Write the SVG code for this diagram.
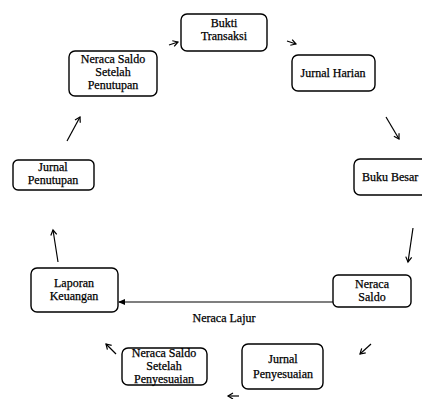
<svg xmlns="http://www.w3.org/2000/svg" width="422" height="399" viewBox="0 0 422 399">
<defs>
<style>
.box{fill:#fff;stroke:#000;stroke-width:1.4}
text{font-family:'Liberation Serif','Times New Roman',serif;font-size:12px;fill:#000;stroke:#000;stroke-width:0.25;text-anchor:middle}
.c{stroke:#000;stroke-width:1.2;fill:none}
</style>
<marker id="ah" markerWidth="8" markerHeight="8" refX="6" refY="4" orient="auto" markerUnits="userSpaceOnUse">
<path d="M1,1 L6,4 L1,7" fill="none" stroke="#000" stroke-width="1.2"/>
</marker>
<marker id="af" markerWidth="8" markerHeight="8" refX="6" refY="4" orient="auto" markerUnits="userSpaceOnUse">
<path d="M0,1 L7,4 L0,7 Z" fill="#000"/>
</marker>
</defs>
<rect width="422" height="399" fill="#fff"/>
<g id="bukti">
<rect class="box" x="181" y="14" width="86" height="37" rx="6"/>
<text x="224" y="27">Bukti</text>
<text x="224" y="40">Transaksi</text>
</g>
<g id="nss-penutupan">
<rect class="box" x="69" y="51" width="88" height="45" rx="6"/>
<text x="113" y="63">Neraca Saldo</text>
<text x="113" y="76">Setelah</text>
<text x="113" y="89">Penutupan</text>
</g>
<g id="jurnal-harian">
<rect class="box" x="292" y="55" width="83" height="36" rx="6"/>
<text x="333" y="77">Jurnal Harian</text>
</g>
<g id="buku-besar">
<rect class="box" x="354" y="159" width="80" height="36" rx="6"/>
<text x="362" y="181" style="text-anchor:start">Buku Besar</text>
</g>
<g id="jurnal-penutupan">
<rect class="box" x="13" y="160" width="81" height="30" rx="5"/>
<text x="53" y="171">Jurnal</text>
<text x="53" y="184">Penutupan</text>
</g>
<g id="laporan">
<rect class="box" x="31" y="268" width="87" height="44" rx="6"/>
<text x="74" y="287">Laporan</text>
<text x="74" y="300">Keuangan</text>
</g>
<g id="neraca-saldo">
<rect class="box" x="333" y="275" width="78" height="32" rx="5"/>
<text x="372" y="288">Neraca</text>
<text x="372" y="301">Saldo</text>
</g>
<g id="nss-penyesuaian">
<rect class="box" x="122" y="348" width="85" height="37" rx="6"/>
<text x="164" y="357">Neraca Saldo</text>
<text x="164" y="370">Setelah</text>
<text x="164" y="383">Penyesuaian</text>
</g>
<g id="jurnal-penyesuaian">
<rect class="box" x="242" y="344" width="81" height="45" rx="6"/>
<text x="283" y="363">Jurnal</text>
<text x="283" y="378">Penyesuaian</text>
</g>
<g id="connectors">
<path class="c" d="M169,45 L178,42" marker-end="url(#ah)"/>
<path class="c" d="M287,41 L296,44" marker-end="url(#ah)"/>
<path class="c" d="M386,117 L399,139" marker-end="url(#ah)"/>
<path class="c" d="M413,228 L408,262" marker-end="url(#ah)"/>
<path class="c" d="M333,302 L119,302" marker-end="url(#af)"/>
<path class="c" d="M371,344 L360,354" marker-end="url(#ah)"/>
<path class="c" d="M239,396 L228,396" marker-end="url(#ah)"/>
<path class="c" d="M116,354 L106,344" marker-end="url(#ah)"/>
<path class="c" d="M58,262 L53,230" marker-end="url(#ah)"/>
<path class="c" d="M67,141 L80,117" marker-end="url(#ah)"/>
</g>
<text x="224" y="322">Neraca Lajur</text>
</svg>
